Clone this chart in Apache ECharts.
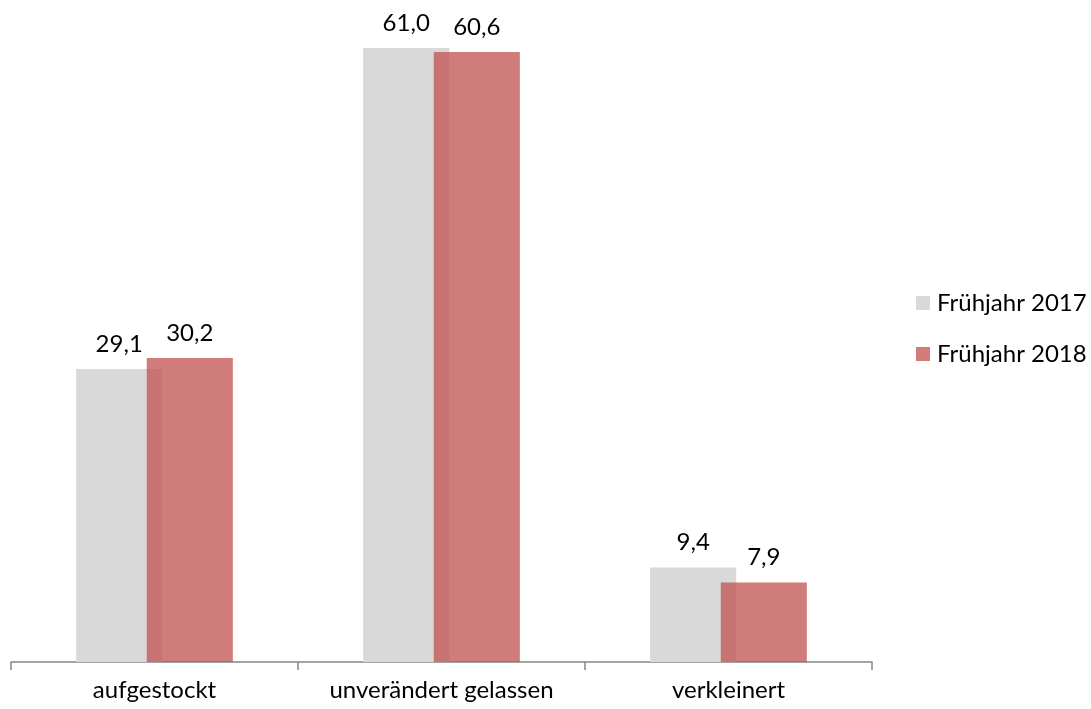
<!DOCTYPE html>
<html><head><meta charset="utf-8">
<script src="https://cdn.jsdelivr.net/npm/echarts@6/dist/echarts.min.js"></script>
<style>html,body{margin:0;padding:0;background:#fff}#c{width:1091px;height:709px}</style>
</head><body><div id="c"></div>
<script>
const categories = ['aufgestockt', 'unverändert gelassen', 'verkleinert'];
const seriesNames = ['Frühjahr 2017', 'Frühjahr 2018'];
const values2017 = [29.1, 61.0, 9.4];
const values2018 = [30.2, 60.6, 7.9];

const font = 'Lato, "Open Sans", sans-serif';
const fs = 24;
const fmt = p => p.value.toFixed(1).replace('.', ',');
const chart = echarts.init(document.getElementById('c'));
chart.setOption({
  animation: false,
  grid: {left: 11, right: 219, top: 48, bottom: 47},
  legend: {
    orient: 'vertical', left: 911, top: 286, itemWidth: 14, itemHeight: 14, itemGap: 27,
    icon: 'rect',
    textStyle: {fontFamily: font, fontSize: fs, color: '#000', padding: [0, 0, 0, 2]},
    data: seriesNames
  },
  xAxis: {
    type: 'category', data: categories,
    axisLine: {lineStyle: {color: '#868686', width: 1.5}},
    axisTick: {show: true, interval: 0, length: 8, lineStyle: {color: '#868686', width: 1.5}},
    axisLabel: {interval: 0, hideOverlap: false, fontFamily: font, fontSize: fs, color: '#000', margin: 16}
  },
  yAxis: {type: 'value', min: 0, max: 61, show: false, splitLine: {show: false}},
  series: [
    {name: seriesNames[0], type: 'bar', data: values2017, barWidth: '30%', barGap: '-18%',
     itemStyle: {color: '#D9D9D9'},
     label: {show: true, position: 'top', distance: 13, formatter: fmt, fontFamily: font, fontSize: fs, color: '#000'}},
    {name: seriesNames[1], type: 'bar', data: values2018, barWidth: '30%',
     itemStyle: {color: 'rgba(192,80,77,0.75)'},
     label: {show: true, position: 'top', distance: 13, formatter: fmt, fontFamily: font, fontSize: fs, color: '#000'}}
  ]
});
</script></body></html>
